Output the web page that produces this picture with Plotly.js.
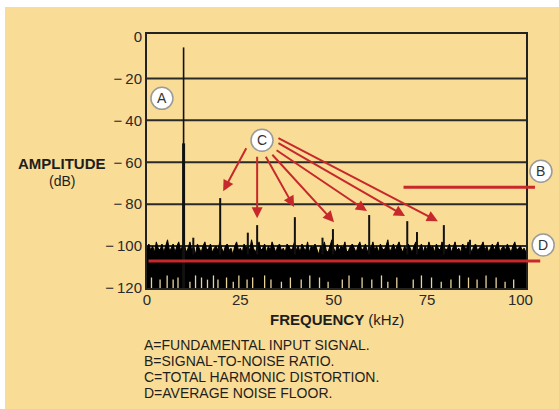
<!DOCTYPE html>
<html><head><meta charset="utf-8">
<script src="https://cdn.plot.ly/plotly-3.0.1.min.js"></script>
<style>
html,body{margin:0;padding:0;background:#ffffff;}
#wrap{position:absolute;left:5px;top:7px;width:554px;height:402px;}
</style></head>
<body><div id="wrap"></div>
<script>
// ---- data ----
const yTickVals = [-120, -100, -80, -60, -40, -20, 0];
const yTickText = ["\u2212\u2009120", "\u2212\u2009100", "\u2212\u200980", "\u2212\u200960", "\u2212\u200940", "\u2212\u200920", "0"];
const xTickVals = [0, 25, 50, 75, 100];
const xTickText = ["0", "25", "50", "75", "100"];
const gridVals = [-100, -80, -60, -40, -20];

// fundamental (kHz, dB)
const fundX = 9.8;
const fundTop = -5.2;
const fundThickTop = -51;

// harmonics and minor peaks
const harmX = [19.6, 29.5, 39.6, 49.8, 59.5, 69.7, 72.3, 79.5, 27.0, 12.4, 47.0, 86.5];
const harmTop = [-77.1, -90.0, -86.2, -91.9, -85.2, -88.1, -93.3, -90.0, -93.6, -96, -96, -97];

// noise floor tops, every 0.5 kHz from 0 to 101.5 kHz
const noiseTop = [
-101,-99,-102,-100,-103,-98,-101,-102,-99,-103,-100,-97,-102,-101,-99,-103,-100,-98,-102,-100,
-99,-103,-101,-98,-102,-100,-104,-99,-101,-103,-100,-98,-102,-101,-99,-103,-101,-100,-102,-98,
-101,-103,-100,-99,-102,-101,-104,-100,-98,-102,-101,-103,-99,-101,-100,-102,-97,-101,-103,-100,
-98,-102,-101,-99,-103,-100,-102,-98,-101,-103,-100,-99,-102,-101,-103,-99,-100,-102,-101,-98,
-102,-100,-103,-99,-101,-102,-98,-103,-100,-101,-99,-102,-104,-100,-101,-98,-102,-103,-100,-97,
-101,-103,-99,-102,-100,-101,-98,-103,-102,-100,-99,-101,-103,-100,-98,-102,-101,-99,-103,-100,
-101,-98,-102,-100,-103,-99,-101,-102,-100,-97,-103,-101,-99,-102,-100,-98,-101,-103,-100,-102,
-99,-101,-103,-100,-98,-102,-101,-99,-103,-100,-102,-98,-101,-100,-103,-99,-101,-102,-98,-100,
-102,-101,-99,-103,-100,-98,-102,-101,-103,-99,-100,-102,-98,-101,-103,-100,-99,-102,-101,-100,
-98,-102,-100,-103,-101,-99,-102,-100,-98,-103,-101,-100,-102,-99,-101,-103,-100,-98,-102,-101,
-100,-102,-101,-103
];
const noiseStep = 0.5;

// pale streaks at the bottom of the noise band
const gapX = [1.2,3.5,5.4,7.0,8.3,11.5,13.0,14.6,16.2,17.8,19.0,21.3,23.1,24.6,26.8,28.3,31.5,33.2,36.0,38.4,41.3,43.6,46.2,48.5,52.3,54.1,57.6,60.2,62.8,64.5,66.9,71.3,73.5,76.2,78.8,81.4,83.7,86.1,88.4,90.8,93.5,95.9,98.2];
const gapTop = [-115,-116,-114,-116,-115,-117,-114,-115,-116,-114,-116,-115,-117,-114,-116,-115,-114,-116,-117,-115,-116,-114,-115,-117,-116,-114,-115,-116,-114,-117,-115,-116,-114,-115,-117,-116,-114,-115,-116,-114,-115,-117,-116];

// circled labels A-D (kHz, dB)
const labelText = ["A", "B", "C", "D"];
const labelX = [4.0, 105.5, 30.8, 106.1];
const labelY = [-29.5, -64.3, -49.5, -99.5];

// arrows from C (heads and tails)
const arrowHeadX = [20.4, 29.5, 39.4, 50.1, 58.9, 69.1, 77.9];
const arrowHeadY = [-73.8, -86.7, -81.4, -88.6, -83.3, -85.7, -88.1];
const arrowTailX = [26.8, 29.5, 31.6, 33.2, 34.3, 34.8, 34.8];
const arrowTailY = [-52.6, -56.7, -56.7, -55.7, -53.8, -50.5, -48.1];

// red level lines: [x0, x1, y]
const snrLine = [68.3, 103.9, -71.9];
const floorLine = [0, 105.3, -107.1];

const notes = ["A=FUNDAMENTAL INPUT SIGNAL.", "B=SIGNAL-TO-NOISE RATIO.", "C=TOTAL HARMONIC DISTORTION.", "D=AVERAGE NOISE FLOOR."];

// ---- build ----
const BG = "#f9dc95";
const RED = "#c7282b";
const INK = "#1e1e1e";
const XR = [0, 101.5], YR = [-120, 1.2];

const noiseX = noiseTop.map((_, i) => i * noiseStep);
const baseY = noiseTop.map(() => -120);

const hx = [], hy = [];
harmX.forEach((x, i) => { hx.push(x, x, null); hy.push(-104, harmTop[i], null); });
const gx = [], gy = [];
gapX.forEach((x, i) => { gx.push(x, x, null); gy.push(-120, gapTop[i], null); });

const traces = [
  {x: noiseX, y: baseY, mode: "lines", line: {color: INK, width: 0}, hoverinfo: "skip", showlegend: false},
  {x: noiseX, y: noiseTop, mode: "lines", fill: "tonexty", fillcolor: "#000000", line: {color: "#000000", width: 1}, hoverinfo: "skip", showlegend: false},
  {x: gx, y: gy, mode: "lines", line: {color: "#e8d49a", width: 1.3}, hoverinfo: "skip", showlegend: false},
  {x: hx, y: hy, mode: "lines", line: {color: "#111", width: 2}, hoverinfo: "skip", showlegend: false},
  {x: [fundX, fundX], y: [-104, fundTop], mode: "lines", line: {color: "#111", width: 1.6}, hoverinfo: "skip", showlegend: false},
  {x: [fundX, fundX], y: [-120, fundThickTop], mode: "lines", line: {color: "#111", width: 3}, hoverinfo: "skip", showlegend: false}
];

const toPX = x => (x - XR[0]) / (XR[1] - XR[0]);
const toPY = y => (y - YR[0]) / (YR[1] - YR[0]);

const shapes = gridVals.map(v => ({type: "line", xref: "x", yref: "y", x0: XR[0], x1: XR[1], y0: v, y1: v,
  line: {color: "#2a2a2a", width: 2}, layer: "below"}));
labelX.forEach((x, i) => {
  shapes.push({type: "circle", xref: "paper", yref: "paper", xsizemode: "pixel", ysizemode: "pixel",
    xanchor: toPX(x), yanchor: toPY(labelY[i]), x0: -11, x1: 11, y0: -11, y1: 11,
    fillcolor: "#ffffff", line: {color: "#9a9a9a", width: 1.5}, layer: "above"});
});

const F = "Arial, Liberation Sans, sans-serif";
const annotations = [];
arrowHeadX.forEach((x, i) => annotations.push({
  x: x, y: arrowHeadY[i], ax: arrowTailX[i], ay: arrowTailY[i], axref: "x", ayref: "y", xref: "x", yref: "y",
  text: "", showarrow: true, arrowhead: 2, arrowsize: 1.1, arrowwidth: 2, arrowcolor: RED, standoff: 0, startstandoff: 0}));
[snrLine, floorLine].forEach(l => annotations.push({
  x: l[1], y: l[2], ax: l[0], ay: l[2], axref: "x", ayref: "y", xref: "x", yref: "y",
  text: "", showarrow: true, arrowhead: 0, arrowwidth: 3, arrowcolor: RED, standoff: 0, startstandoff: 0}));
labelText.forEach((t, i) => annotations.push({x: toPX(labelX[i]), y: toPY(labelY[i]), xref: "paper", yref: "paper", text: t,
  showarrow: false, xanchor: "center", yanchor: "middle", font: {family: F, size: 14, color: "#333"}}));

annotations.push({xref: "paper", yref: "paper", x: -0.223, y: 0.492, text: "<b>AMPLITUDE</b>", showarrow: false,
  xanchor: "center", yanchor: "middle", font: {family: F, size: 15, color: INK}});
annotations.push({xref: "paper", yref: "paper", x: -0.225, y: 0.421, text: "(dB)", showarrow: false,
  xanchor: "center", yanchor: "middle", font: {family: F, size: 14, color: INK}});
annotations.push({xref: "paper", yref: "paper", x: 0.5, y: -0.124, text: "<b>FREQUENCY</b> (kHz)", showarrow: false,
  xanchor: "center", yanchor: "middle", font: {family: F, size: 15, color: INK}});
const noteY = [-0.2244, -0.2874, -0.3504, -0.4134];
notes.forEach((t, i) => annotations.push({xref: "paper", yref: "paper", x: -0.0132, y: noteY[i], text: t, showarrow: false,
  xanchor: "left", yanchor: "middle", font: {family: F, size: 14, color: INK}}));

const layout = {
  width: 554, height: 402,
  margin: {l: 142, r: 33, t: 27, b: 121, pad: 0},
  paper_bgcolor: BG, plot_bgcolor: BG,
  font: {family: F, color: INK},
  xaxis: {range: XR, tickvals: xTickVals, ticktext: xTickText, showgrid: false, zeroline: false,
    showline: true, mirror: true, linecolor: "#222", linewidth: 2, ticks: "", ticklabelstandoff: -3,
    tickfont: {family: F, size: 15, color: "#2a2a2a"}, fixedrange: true},
  yaxis: {range: YR, tickvals: yTickVals, ticktext: yTickText, showgrid: false, zeroline: false,
    showline: true, mirror: true, linecolor: "#222", linewidth: 2, ticks: "",
    tickfont: {family: F, size: 15, color: "#2a2a2a"}, fixedrange: true},
  shapes: shapes,
  annotations: annotations,
  showlegend: false
};

Plotly.newPlot("wrap", traces, layout, {displayModeBar: false, staticPlot: true});
</script>
</body></html>
